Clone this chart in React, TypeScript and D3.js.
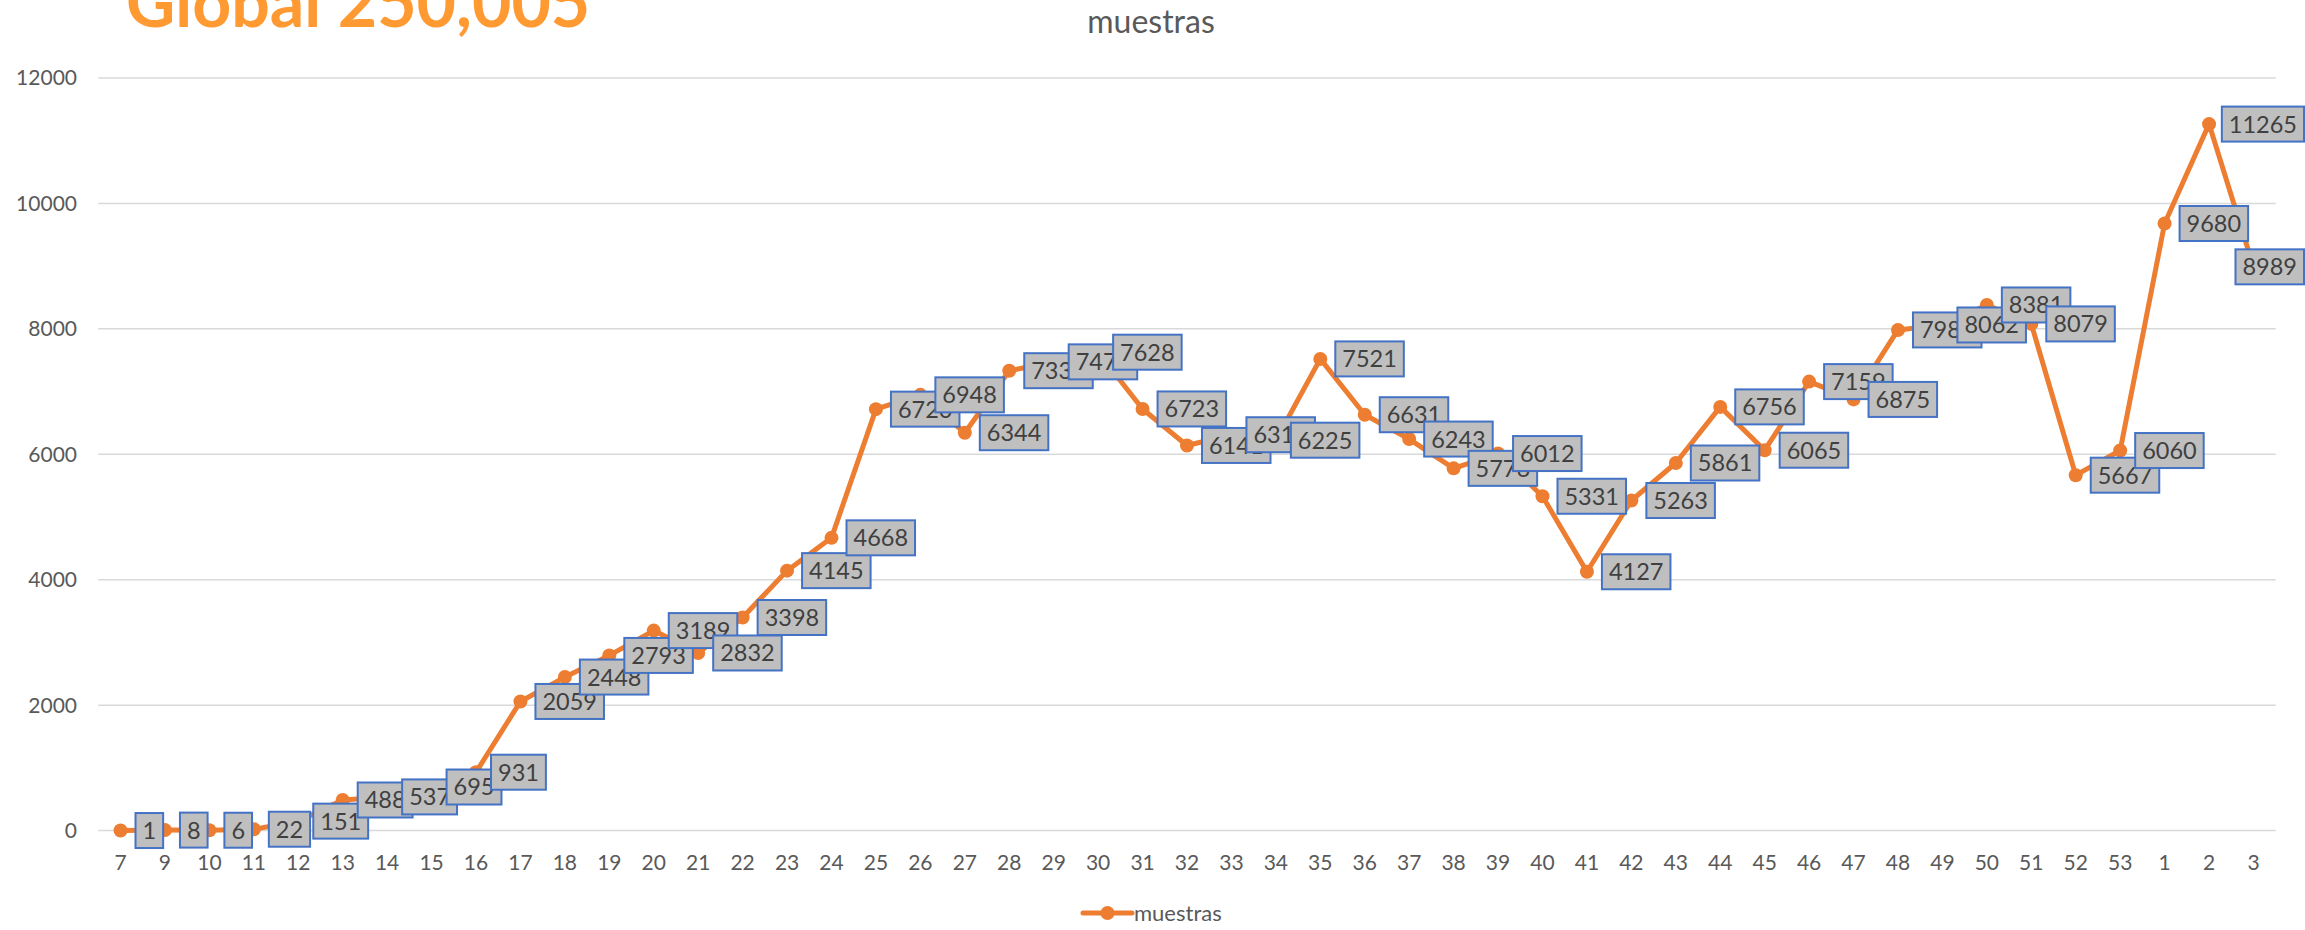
import React from "react";
import * as d3 from "d3";

const categories: string[] = [
  "7","9","10","11","12","13","14","15","16","17","18","19","20","21","22","23","24","25","26","27","28","29","30","31","32","33","34","35","36","37","38","39","40","41","42","43","44","45","46","47","48","49","50","51","52","53","1","2","3",
];
const muestras: number[] = [
  1, 8, 6, 22, 151, 488, 537, 695, 931, 2059, 2448, 2793, 3189, 2832, 3398, 4145, 4668, 6720, 6948, 6344, 7333, 7474, 7628, 6723, 6141, 6312, 6225, 7521, 6631, 6243, 5776, 6012, 5331, 4127, 5263, 5861, 6756, 6065, 7159, 6875, 7983, 8062, 8381, 8079, 5667, 6060, 9680, 11265, 8989,
];
const yTicks: number[] = [0, 2000, 4000, 6000, 8000, 10000, 12000];
const bigTitle = "Global 250,005";
const chartTitle = "muestras";
const seriesName = "muestras";

const W = 2305;
const H = 930;
const FONT = "Lato, 'Open Sans', sans-serif";
const ORANGE = "#ED7D31";

export default function App() {
  const x = d3.scaleBand<string>().domain(categories).range([98.3, 2275.7]).padding(0);
  const xc = (c: string) => (x(c) as number) + x.bandwidth() / 2;
  const y = d3.scaleLinear().domain([0, 12000]).range([830.6, 78]);

  const line = d3
    .line<number>()
    .x((_, i) => xc(categories[i]))
    .y((d) => y(d));

  const labelFont = 23.5;
  const digitW = 0.58 * labelFont;
  const pad = 7;
  const boxH = 35;

  return (
    <svg
      width={W}
      height={H}
      style={{ position: "absolute", left: 0, top: 0, background: "#fff" }}
      fontFamily={FONT}
    >
      <rect x={0} y={0} width={W} height={H} fill="#fff" />
      {yTicks.map((t) => (
        <line key={"g" + t} x1={98.3} x2={2275.7} y1={y(t)} y2={y(t)} stroke="#D9D9D9" strokeWidth={1.5} />
      ))}
      {yTicks.map((t) => (
        <text key={"yt" + t} x={77} y={y(t)} dy="0.35em" textAnchor="end" fontSize={21} fill="#595959">
          {t}
        </text>
      ))}
      {categories.map((c) => (
        <text key={"xt" + c} x={xc(c)} y={863} dy="0.35em" textAnchor="middle" fontSize={21} fill="#595959">
          {c}
        </text>
      ))}
      <text x={126} y={27} fontSize={68} fontWeight="bold" fill="#FF9A33">
        {bigTitle}
      </text>
      <text x={1151} y={22} dy="0.35em" textAnchor="middle" fontSize={32} fill="#595959">
        {chartTitle}
      </text>
      <path d={line(muestras) || ""} fill="none" stroke={ORANGE} strokeWidth={5} strokeLinejoin="round" strokeLinecap="round" />
      {muestras.map((v, i) => (
        <circle key={"m" + i} cx={xc(categories[i])} cy={y(v)} r={7} fill={ORANGE} />
      ))}
      {muestras.map((v, i) => {
        const s = String(v);
        const bw = s.length * digitW + 2 * pad;
        const bx = Math.min(xc(categories[i]) + 15, W - bw - 1);
        const cy = y(v);
        return (
          <g key={"l" + i}>
            <rect x={bx} y={cy - boxH / 2} width={bw} height={boxH} fill="#BFBFBF" stroke="#4472C4" strokeWidth={2} />
            <text x={bx + bw / 2} y={cy} dy="0.36em" textAnchor="middle" fontSize={labelFont} fill="#404040">
              {s}
            </text>
          </g>
        );
      })}
      <line x1={1083} x2={1132} y1={913} y2={913} stroke={ORANGE} strokeWidth={5} strokeLinecap="round" />
      <circle cx={1107.5} cy={913} r={7} fill={ORANGE} />
      <text x={1134} y={913} dy="0.35em" fontSize={22} fill="#595959">
        {seriesName}
      </text>
    </svg>
  );
}
